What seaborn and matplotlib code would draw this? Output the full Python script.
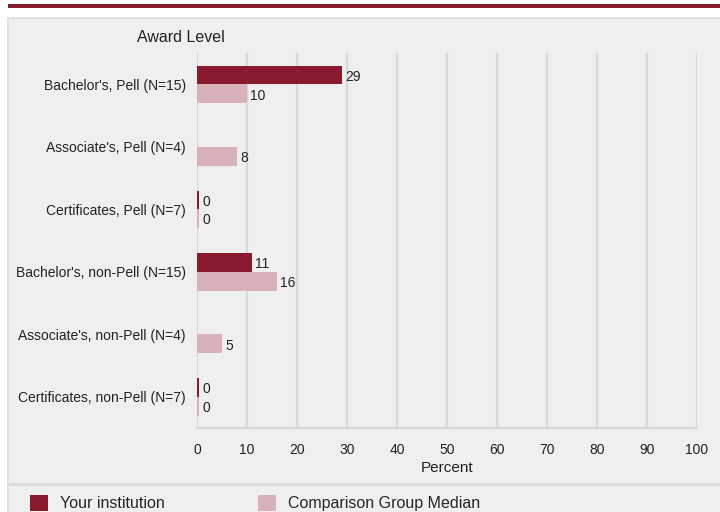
import numpy as np
import pandas as pd
import seaborn as sns
import matplotlib.pyplot as plt
from matplotlib.patches import Rectangle

# data
levels = ["Bachelor's, Pell (N=15)", "Associate's, Pell (N=4)", "Certificates, Pell (N=7)",
          "Bachelor's, non-Pell (N=15)", "Associate's, non-Pell (N=4)", "Certificates, non-Pell (N=7)"]
institution = [29, np.nan, 0, 11, np.nan, 0]
comparison = [10, 8, 0, 16, 5, 0]
series = ["Your institution", "Comparison Group Median"]
colors = ["#8a1a2d", "#d9b2b9"]
xticks = [0, 10, 20, 30, 40, 50, 60, 70, 80, 90, 100]

df = pd.DataFrame({
    "level": levels * 2,
    "value": institution + comparison,
    "series": [series[0]] * len(levels) + [series[1]] * len(levels),
})

sns.set_style("white")
plt.rcParams["font.family"] = ["Liberation Sans", "DejaVu Sans"]

W, H = 720, 512
fig = plt.figure(figsize=(W / 100, H / 100), dpi=100)
fig.patch.set_facecolor("white")

# top band and panel
fig.patches.append(Rectangle((8 / W, 1 - 8 / H), 1, 4 / H, transform=fig.transFigure,
                             facecolor="#8a1a2d", edgecolor="none", zorder=-2))
fig.patches.append(Rectangle((8 / W, -0.05), 1, 1 - 18 / H + 0.05, transform=fig.transFigure,
                             facecolor="#efefef", edgecolor="#dcdcdc", linewidth=1.2, zorder=-2))
fig.lines.append(plt.Line2D([8 / W, 1], [1 - 484 / H] * 2, transform=fig.transFigure,
                            color="#dcdcdc", linewidth=2, zorder=-1))

ax = fig.add_axes([197 / W, 1 - 428 / H, 500 / W, 375 / H])
ax.set_zorder(1)
ax.set_facecolor("none")

sns.barplot(data=df, x="value", y="level", hue="series", palette=colors,
            orient="h", width=0.6, ax=ax, saturation=1, legend=True,
            edgecolor="none", linewidth=0)

for cont in ax.containers:
    for bar, v in zip(cont.patches, cont.datavalues):
        if np.isnan(v):
            continue
        if v == 0:
            bar.set_width(0.4)
        ax.text(max(v, 0.4) + 0.6, bar.get_y() + bar.get_height() / 2 + 0.03, f"{v:.0f}",
                va="center", ha="left", fontsize=10, color="#222222")

ax.set_xlim(0, 100)
ax.set_xticks(xticks)
ax.set_ylim(len(levels) - 0.5, -0.5)
ax.grid(axis="x", color="#d8d8d8", linewidth=1.6)
ax.set_axisbelow(True)
for s in ["top", "right", "left"]:
    ax.spines[s].set_visible(False)
ax.spines["bottom"].set_color("#d8d8d8")
ax.spines["bottom"].set_linewidth(1.6)
ax.tick_params(axis="x", length=6, width=1.6, color="#d8d8d8", labelsize=10, pad=5,
               labelcolor="#222222")
ax.tick_params(axis="y", length=0, labelsize=10, pad=8, labelcolor="#222222")
ax.set_xlabel("Percent", fontsize=11, color="#222222", labelpad=3)
ax.set_ylabel("")

fig.text(181 / W, 1 - 38 / H, "Award Level", ha="center", va="center", fontsize=11.5,
         color="#222222")

sns.move_legend(ax, "center left", bbox_to_anchor=(30 / W, 9 / H), bbox_transform=fig.transFigure,
                ncol=2, frameon=False, title=None, fontsize=11.5, handlelength=1.15,
                handleheight=1.15, handletextpad=0.75, columnspacing=5.8, borderpad=0,
                borderaxespad=0)

fig.savefig("out.png", dpi=100)
